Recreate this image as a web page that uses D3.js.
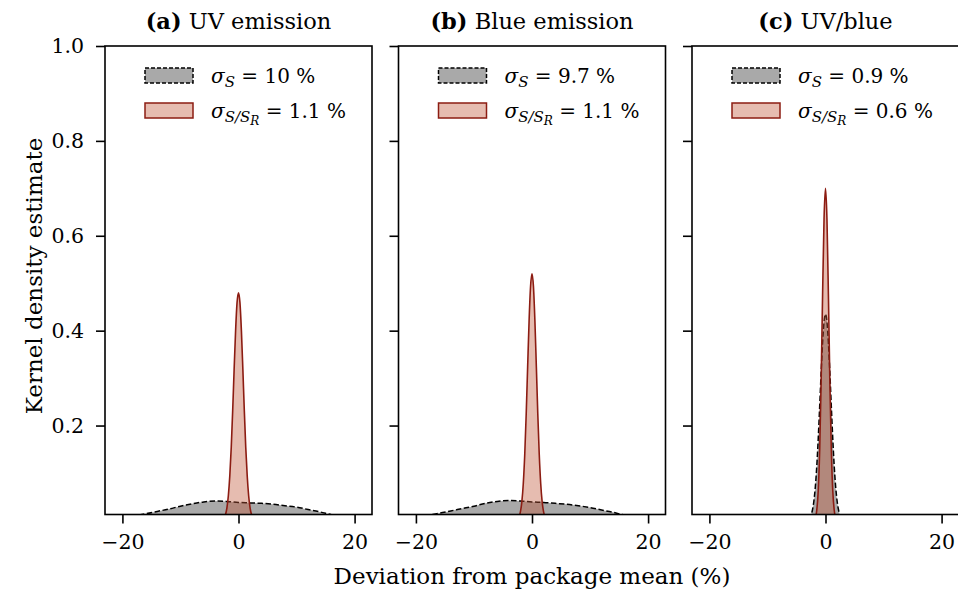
<!DOCTYPE html>
<html>
<head>
<meta charset="utf-8">
<script src="https://cdn.jsdelivr.net/npm/d3@7"></script>
<style>
  body { margin: 0; background: #fff; }
  svg { font-family: "DejaVu Serif", "Liberation Serif", serif; }
</style>
</head>
<body>
<svg id="chart" width="958" height="601"></svg>
<script>
// ---- data ----
var panelTitles = [["(a)", " UV emission"], ["(b)", " Blue emission"], ["(c)", " UV/blue"]];
var sigmaS = ["10", "9.7", "0.9"];
var sigmaSR = ["1.1", "1.1", "0.6"];
var xTicks = [-20, 0, 20];
var yTicks = [0.2, 0.4, 0.6, 0.8, 1.0];

// wide grid (percent) for the broad KDEs
var wideX = [-24, -22, -20, -18, -16, -14, -12, -10, -8, -6, -4, -2, 0, 2, 4, 6, 8, 10, 12, 14, 16, 18, 20, 22, 24];
var grayA = [0.002, 0.004, 0.007, 0.010, 0.014, 0.019, 0.024, 0.030, 0.035, 0.039, 0.041, 0.040, 0.038, 0.037, 0.036, 0.034, 0.031, 0.028, 0.023, 0.018, 0.012, 0.007, 0.004, 0.002, 0.001];
var grayB = [0.002, 0.004, 0.007, 0.011, 0.015, 0.020, 0.025, 0.030, 0.036, 0.040, 0.042, 0.041, 0.039, 0.038, 0.036, 0.034, 0.031, 0.027, 0.022, 0.017, 0.011, 0.007, 0.004, 0.002, 0.001];

// narrow grid for the sharp KDEs
var narrowX = [-3, -2.75, -2.5, -2.25, -2, -1.75, -1.5, -1.25, -1, -0.75, -0.5, -0.25, 0, 0.25, 0.5, 0.75, 1, 1.25, 1.5, 1.75, 2, 2.25, 2.5, 2.75, 3];
var redA = [0.001, 0.002, 0.005, 0.012, 0.026, 0.052, 0.094, 0.154, 0.232, 0.319, 0.400, 0.459, 0.480, 0.459, 0.400, 0.319, 0.232, 0.154, 0.094, 0.052, 0.026, 0.012, 0.005, 0.002, 0.001];
var redB = [0, 0.001, 0.003, 0.007, 0.018, 0.039, 0.078, 0.139, 0.224, 0.324, 0.421, 0.493, 0.520, 0.493, 0.421, 0.324, 0.224, 0.139, 0.078, 0.039, 0.018, 0.007, 0.003, 0.001, 0];
var redC = [0, 0, 0, 0, 0.0015, 0.006, 0.022, 0.063, 0.150, 0.294, 0.476, 0.636, 0.700, 0.636, 0.476, 0.294, 0.150, 0.063, 0.022, 0.006, 0.0015, 0, 0, 0, 0];
var grayC = [0.002, 0.005, 0.011, 0.022, 0.041, 0.071, 0.115, 0.173, 0.241, 0.312, 0.375, 0.419, 0.435, 0.419, 0.375, 0.312, 0.241, 0.173, 0.115, 0.071, 0.041, 0.022, 0.011, 0.005, 0.002];

var grayX = [wideX, wideX, narrowX];
var grayY = [grayA, grayB, grayC];
var redY = [redA, redB, redC];

// ---- layout ----
var svg = d3.select('#chart');
var panelLeft = [105, 398.5, 692];
var panelW = 267, plotTop = 46, plotBottom = 514.5;
var RED = '#8c1c12', RED_FILL = '#c0583a', GRAY_FILL = '#a9a9a9';

var y = d3.scaleLinear().domain([0.0125, 1.0]).range([plotBottom, plotTop]);

panelLeft.forEach(function(left, i) {
  var x = d3.scaleLinear().domain([-23, 23]).range([left, left + panelW]);
  var clipId = 'clip' + i;
  svg.append('clipPath').attr('id', clipId).append('rect')
    .attr('x', left).attr('y', plotTop).attr('width', panelW).attr('height', plotBottom - plotTop);

  var plot = svg.append('g').attr('clip-path', 'url(#' + clipId + ')');
  var area = d3.area().x(function(d) { return x(d[0]); }).y0(y(0)).y1(function(d) { return y(d[1]); }).curve(d3.curveMonotoneX);
  var line = d3.line().x(function(d) { return x(d[0]); }).y(function(d) { return y(d[1]); }).curve(d3.curveMonotoneX);

  var gpts = grayX[i].map(function(v, k) { return [v, grayY[i][k]]; });
  var rpts = narrowX.map(function(v, k) { return [v, redY[i][k]]; });

  plot.append('path').datum(gpts).attr('d', area).attr('fill', GRAY_FILL);
  plot.append('path').datum(gpts).attr('d', line).attr('fill', 'none')
    .attr('stroke', '#000').attr('stroke-width', 1.5).attr('stroke-dasharray', '5.5,2.5');
  plot.append('path').datum(rpts).attr('d', area).attr('fill', RED_FILL).attr('fill-opacity', 0.4);
  plot.append('path').datum(rpts).attr('d', line).attr('fill', 'none')
    .attr('stroke', RED).attr('stroke-width', 1.6);

  // frame
  svg.append('rect').attr('x', left).attr('y', plotTop).attr('width', panelW).attr('height', plotBottom - plotTop)
    .attr('fill', 'none').attr('stroke', '#000').attr('stroke-width', 1.6);

  // x axis
  var xa = svg.append('g').attr('transform', 'translate(0,' + plotBottom + ')')
    .call(d3.axisBottom(x).tickValues(xTicks).tickSize(9).tickPadding(11));
  xa.select('.domain').remove();
  xa.selectAll('line').attr('stroke-width', 1.6);
  xa.selectAll('text').attr('font-size', 20.5).attr('font-family', 'DejaVu Serif').attr('fill', '#000');

  // y axis
  var ya = svg.append('g').attr('transform', 'translate(' + left + ',0)')
    .call(d3.axisLeft(y).tickValues(yTicks).tickSize(9).tickPadding(12).tickFormat(i === 0 ? d3.format('.1f') : ''));
  ya.select('.domain').remove();
  ya.selectAll('line').attr('stroke-width', 1.6);
  ya.selectAll('text').attr('font-size', 20.5).attr('font-family', 'DejaVu Serif').attr('fill', '#000');

  // title
  var t = svg.append('text').attr('x', left + panelW / 2).attr('y', 29)
    .attr('text-anchor', 'middle').attr('font-size', 22.5);
  t.append('tspan').attr('font-weight', 'bold').text(panelTitles[i][0]);
  t.append('tspan').text(panelTitles[i][1]);

  // legend
  var lg = svg.append('g').attr('transform', 'translate(' + (left + 40) + ',0)');
  lg.append('rect').attr('x', 0).attr('y', 68).attr('width', 48).attr('height', 15)
    .attr('fill', GRAY_FILL).attr('stroke', '#000').attr('stroke-width', 1.5).attr('stroke-dasharray', '4,2');
  lg.append('rect').attr('x', 0).attr('y', 103).attr('width', 48).attr('height', 15)
    .attr('fill', RED_FILL).attr('fill-opacity', 0.4).attr('stroke', RED).attr('stroke-width', 1.5);

  var l1 = lg.append('text').attr('x', 66).attr('y', 83).attr('font-size', 20);
  l1.append('tspan').attr('font-style', 'italic').text('σ');
  l1.append('tspan').attr('font-style', 'italic').attr('font-size', 15).attr('dy', 4).text('S');
  l1.append('tspan').attr('dy', -4).text(' = ' + sigmaS[i] + ' %');

  var l2 = lg.append('text').attr('x', 66).attr('y', 118).attr('font-size', 20);
  l2.append('tspan').attr('font-style', 'italic').text('σ');
  l2.append('tspan').attr('font-style', 'italic').attr('font-size', 15).attr('dy', 4).text('S/S');
  l2.append('tspan').attr('font-style', 'italic').attr('font-size', 12).attr('dy', 3).text('R');
  l2.append('tspan').attr('dy', -7).text(' = ' + sigmaSR[i] + ' %');
});

// axis labels
svg.append('text').attr('x', 532).attr('y', 584).attr('text-anchor', 'middle')
  .attr('font-size', 23).text('Deviation from package mean (%)');
svg.append('text').attr('transform', 'translate(42,276) rotate(-90)').attr('text-anchor', 'middle')
  .attr('font-size', 23).text('Kernel density estimate');
</script>
</body>
</html>
